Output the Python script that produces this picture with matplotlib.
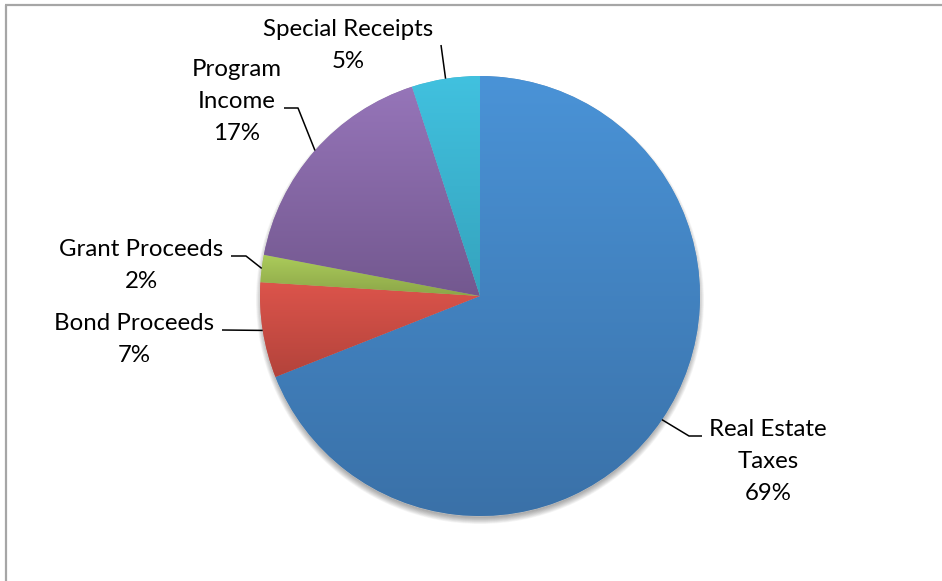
import numpy as np
import matplotlib.pyplot as plt
from matplotlib.colors import to_rgb

# Revenue sources (share of total, %)
categories = ["Real Estate\nTaxes", "Bond Proceeds", "Grant Proceeds",
              "Program\nIncome", "Special Receipts"]
shares = [69, 7, 2, 17, 5]

# Top / bottom colours of each slice's vertical gradient
top_colors = ["#4A93D7", "#DC544B", "#ACCC5B", "#9675B9", "#41C1DF"]
bottom_colors = ["#3A71A8", "#B3433B", "#8CA648", "#73588F", "#35A3BD"]

W, H = 942, 581
CX, CY, R = 480, 296, 220          # pie centre / radius in pixel space (y down)


def fy(y):
    """Pixel row (top-down) -> axes data y (bottom-up)."""
    return H - y


fig = plt.figure(figsize=(W / 100, H / 100), dpi=100)
ax = fig.add_axes([0, 0, 1, 1])

# soft drop shadow, offset downward
for k in np.linspace(-2, 4, 10):
    ax.add_patch(plt.Circle((CX, fy(CY) - 4), R + k, color="#000000",
                            alpha=0.035, lw=0, zorder=0))

wedges, _ = ax.pie(shares, startangle=90, counterclock=False,
                   center=(CX, fy(CY)), radius=R, frame=True,
                   wedgeprops=dict(linewidth=0.6, edgecolor=(1, 1, 1, 0.3)))
ax.set_xlim(0, W)
ax.set_ylim(0, H)
ax.set_aspect("equal")
ax.axis("off")

# each slice gets its own top-to-bottom gradient over its bounding box
n = 256
for w, c0, c1 in zip(wedges, top_colors, bottom_colors):
    w.set_facecolor(c1)
    w.set_zorder(1)
    bb = w.get_path().get_extents()
    t = np.linspace(0, 1, n)[:, None, None]
    grad = (1 - t) * np.array(to_rgb(c0)) + t * np.array(to_rgb(c1))
    im = ax.imshow(grad, extent=(bb.x0, bb.x1, bb.y0, bb.y1),
                   origin="upper", aspect="auto", interpolation="bilinear",
                   zorder=1.5)
    im.set_clip_path(w)
ax.set_xlim(0, W)
ax.set_ylim(0, H)

# label layout: text centre (x, y of first line) and leader-line elbow/end
label_pos = [(768, 430), (134, 323), (141, 249), (237, 70), (348, 29)]
leader_pts = [
    [(689, 436), (702, 436)],
    [(222, 330)],
    [(246, 256), (231, 256)],
    [(298, 108), (284, 108)],
    [(441, 45)],
]
line_gap = 32

font = dict(family="Lato", size=17.3, color="black")

cum = np.cumsum([0] + shares)
total = float(sum(shares))
for i, (lab, val) in enumerate(zip(categories, shares)):
    mid = (cum[i] + cum[i + 1]) / 2 / total * 360.0
    ang = np.deg2rad(90 - mid)
    ex, ey = CX + R * np.cos(ang), CY - R * np.sin(ang)
    pts = [(ex, ey)] + leader_pts[i]
    ax.plot([p[0] for p in pts], [fy(p[1]) for p in pts],
            color="black", lw=1.1, solid_capstyle="butt", zorder=3)
    lines = lab.split("\n") + [f"{val}%"]
    tx, ty = label_pos[i]
    for j, s in enumerate(lines):
        ax.text(tx, fy(ty + j * line_gap), s, ha="center", va="center",
                zorder=4, **font)

# chart-area frame (top and left edges)
ax.plot([5, W], [fy(5), fy(5)], color="#A6A6A6", lw=1.6, zorder=5,
        solid_capstyle="butt")
ax.plot([5.5, 5.5], [fy(5), 0], color="#A6A6A6", lw=1.6, zorder=5,
        solid_capstyle="butt")

fig.savefig("out.png", dpi=100)
